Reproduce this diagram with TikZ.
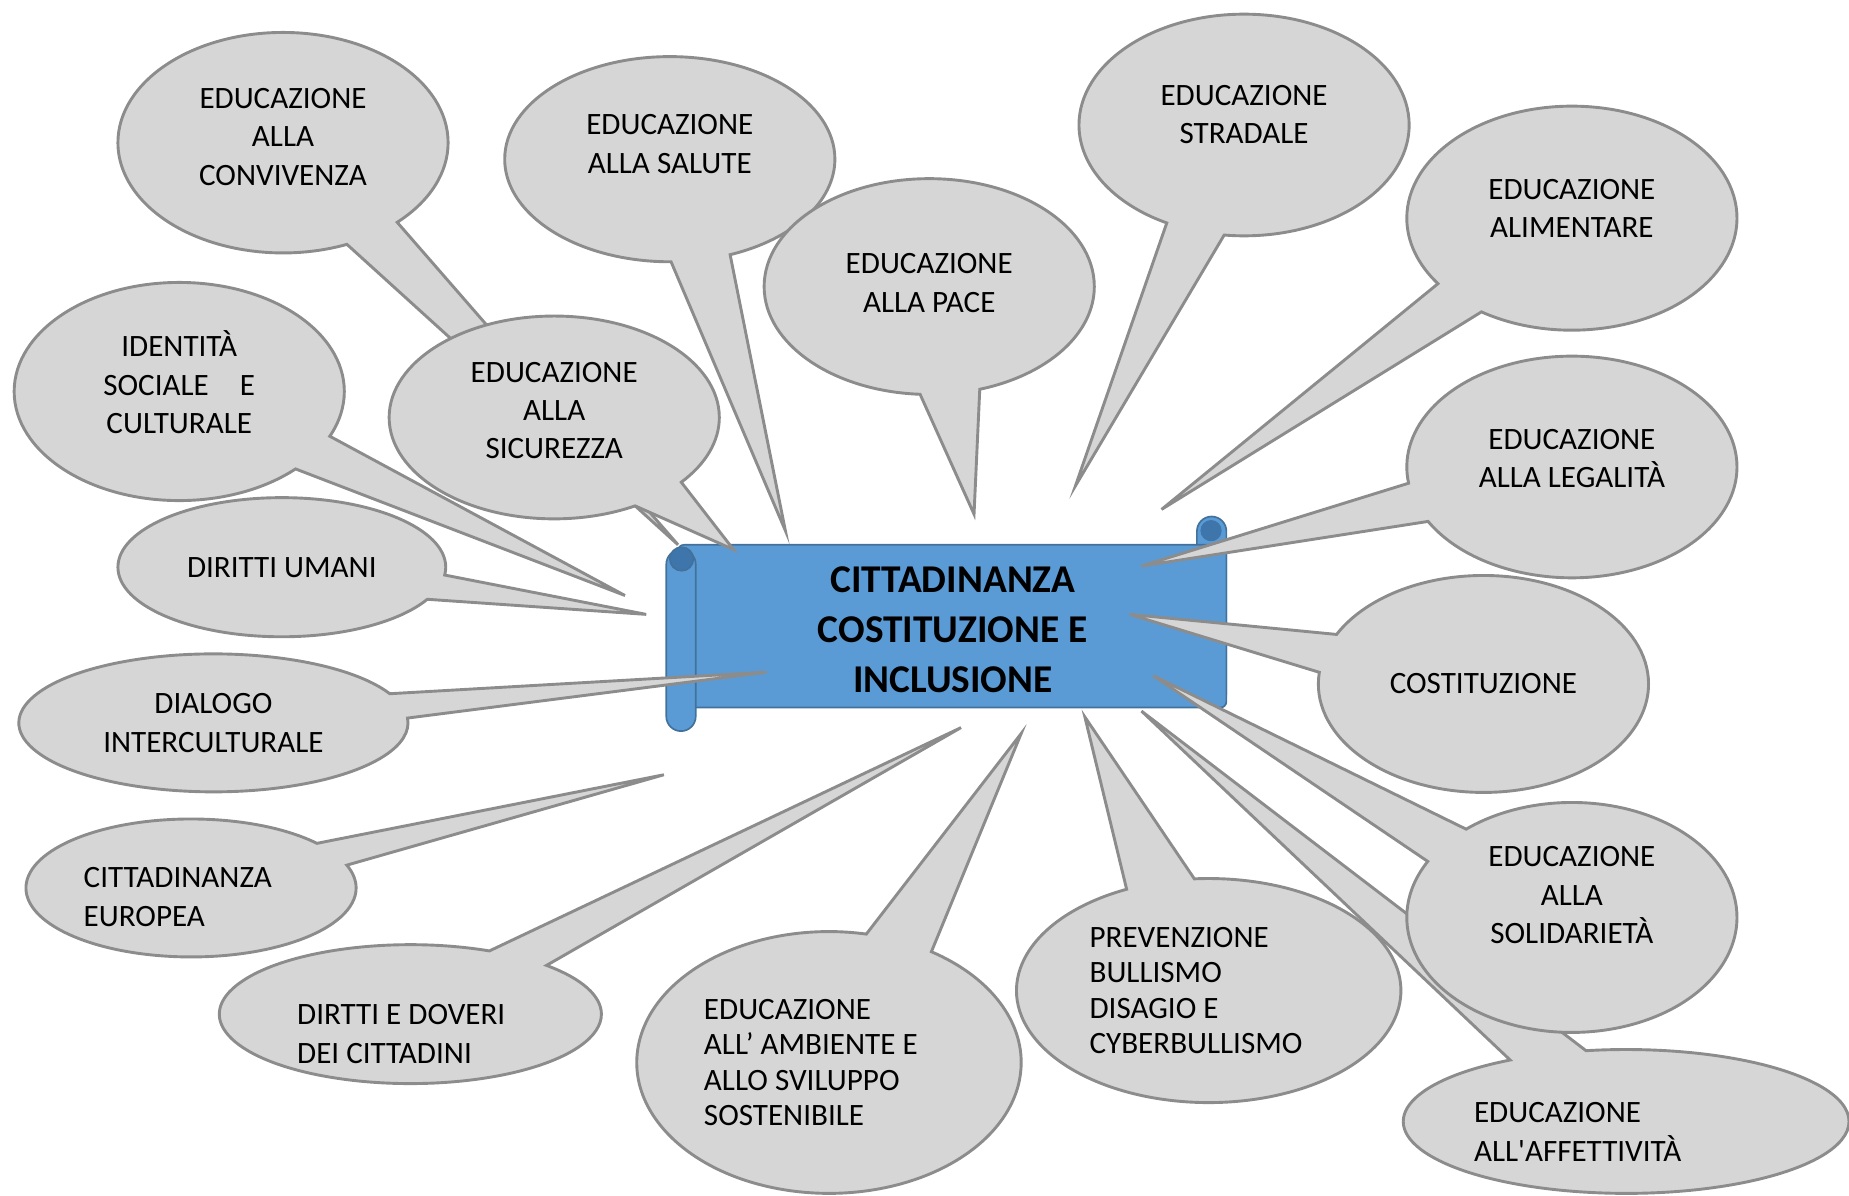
\documentclass[tikz,border=0pt]{standalone}
\usepackage{fontspec}
\setmainfont{Carlito}
\usetikzlibrary{shapes.callouts}
\definecolor{bubblefill}{RGB}{214,214,214}
\definecolor{bubbleedge}{RGB}{140,140,140}
\definecolor{scrollblue}{RGB}{91,155,213}
\definecolor{scrolledge}{RGB}{65,113,156}
\definecolor{scrolldark}{RGB}{62,117,170}
\tikzset{
  bubble/.style={ellipse callout, fill=bubblefill, draw=bubbleedge,
    line width=1.4pt, inner sep=0pt, align=center,
    callout pointer arc=21, font=\fontsize{15}{18.5}\selectfont},
  tight/.style={font=\fontsize{15}{17.2}\selectfont},
  scrollpart/.style={fill=scrollblue, draw=scrolledge, line width=0.8pt},
}
\begin{document}
\begin{tikzpicture}[x=0.2mm, y=-0.2mm]
\useasboundingbox (0,0) rectangle (1568,1014);

% Scroll
\draw[scrollpart, rounded corners=2.5mm] (1015,438) rectangle (1040,600);
\fill[scrolldark] (1027,450) circle[radius=9];
\draw[scrollpart, rounded corners=1mm] (575,462) rectangle (1040,600);
\draw[scrollpart, rounded corners=2.5mm] (565,466) rectangle (590,620);
\draw[scrollpart, fill=scrolldark] (578,474) circle[radius=10];
\node[font=\bfseries\fontsize{19}{24}\selectfont, align=center] (main) at (808,534)
  {CITTADINANZA\\COSTITUZIONE E\\INCLUSIONE};

% tips
\coordinate (t-conv) at (575,462);
\coordinate (t-iden) at (530,505);
\coordinate (t-salu) at (666,450);
\coordinate (t-sicu) at (622,466);
\coordinate (t-pace) at (826,436);
\coordinate (t-stra) at (912,412);
\coordinate (t-alim) at (985,432);
\coordinate (t-lega) at (968,480);
\coordinate (t-cost) at (958,521);
\coordinate (t-affe) at (968,603);
\coordinate (t-soli) at (978,573);
\coordinate (t-prev) at (920,608);
\coordinate (t-ambi) at (866,622);
\coordinate (t-dove) at (815,617);
\coordinate (t-euro) at (563,657);
\coordinate (t-dial) at (650,570);
\coordinate (t-uman) at (548,521);

% Bubbles
\node[bubble, minimum width=56mm, minimum height=37.4mm, text depth=5.7pt,
  callout absolute pointer={(t-conv)}] (conv) at (240,121)
  {EDUCAZIONE\\ALLA\\CONVIVENZA};
\node[bubble, minimum width=56mm, minimum height=37mm, text depth=9.1pt,
  callout absolute pointer={(t-iden)}] (iden) at (152,332)
  {IDENTIT\`A\\SOCIALE\quad E\\CULTURALE};
\node[bubble, minimum width=56mm, minimum height=34.8mm, text depth=14.8pt,
  callout absolute pointer={(t-salu)}] (salu) at (568,135)
  {EDUCAZIONE\\ALLA SALUTE};
\node[bubble, minimum width=56mm, minimum height=34.4mm, text depth=6.8pt,
  callout absolute pointer={(t-sicu)}] (sicu) at (470,354)
  {EDUCAZIONE\\ALLA\\SICUREZZA};
\node[bubble, minimum width=56mm, minimum height=36.6mm, text depth=3.4pt,
  callout absolute pointer={(t-pace)}] (pace) at (788,243)
  {EDUCAZIONE\\ALLA PACE};
\node[bubble, minimum width=56mm, minimum height=37.6mm, text depth=10.2pt,
  callout absolute pointer={(t-stra)}] (stra) at (1055,106)
  {EDUCAZIONE\\STRADALE};
\node[bubble, minimum width=56mm, minimum height=38mm, text depth=9.1pt,
  callout absolute pointer={(t-alim)}] (alim) at (1333,185)
  {EDUCAZIONE\\ALIMENTARE};
\node[bubble, minimum width=56mm, minimum height=37.6mm, text depth=8pt,
  callout absolute pointer={(t-lega)}] (lega) at (1333,396)
  {EDUCAZIONE\\ALLA LEGALIT\`A};
\node[bubble, minimum width=56mm, minimum height=36.8mm,
  callout absolute pointer={(t-cost)}] (cost) at (1258,580)
  {COSTITUZIONE};
\node[bubble, minimum width=75.6mm, minimum height=24.4mm, align=flush left,
  text width=51.6mm, text height=19.7pt,
  callout absolute pointer={(t-affe)}] (affe) at (1379,951)
  {EDUCAZIONE\\ALL\textquotesingle AFFETTIVIT\`A};
\node[bubble, minimum width=56mm, minimum height=39mm, text depth=21.6pt,
  callout absolute pointer={(t-soli)}] (soli) at (1333,778)
  {EDUCAZIONE\\ALLA\\SOLIDARIET\`A};
\node[bubble, tight, minimum width=65.2mm, minimum height=38mm, align=flush left,
  text width=40.4mm, callout absolute pointer={(t-prev)}] (prev) at (1025,840)
  {PREVENZIONE\\BULLISMO\\DISAGIO E\\CYBERBULLISMO};
\node[bubble, tight, minimum width=65.2mm, minimum height=44.4mm, align=flush left,
  text width=42.4mm, callout absolute pointer={(t-ambi)}] (ambi) at (703,901)
  {EDUCAZIONE\\ALL’ AMBIENTE E\\ALLO SVILUPPO\\SOSTENIBILE};
\node[bubble, minimum width=64.8mm, minimum height=22mm, align=flush left,
  text width=38.4mm, text height=28.8pt,
  callout absolute pointer={(t-dove)}] (dove) at (348,860)
  {DIRTTI E DOVERI\\DEI CITTADINI};
\node[bubble, minimum width=56mm, minimum height=23.4mm, align=flush left,
  text width=36.4mm, text height=18.6pt,
  callout absolute pointer={(t-euro)}] (euro) at (162,753)
  {CITTADINANZA\\EUROPEA};
\node[bubble, minimum width=66mm, minimum height=23.4mm,
  callout absolute pointer={(t-dial)}] (dial) at (181,613)
  {DIALOGO\\INTERCULTURALE};
\node[bubble, minimum width=55.6mm, minimum height=23.6mm,
  callout absolute pointer={(t-uman)}] (uman) at (239,481)
  {DIRITTI UMANI};

\end{tikzpicture}
\end{document}
